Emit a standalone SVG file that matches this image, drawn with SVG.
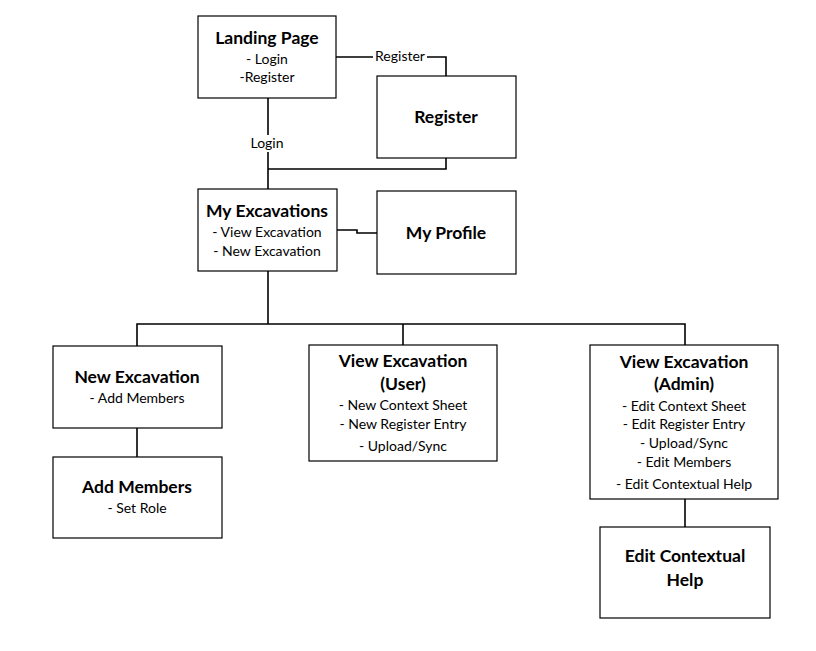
<svg xmlns="http://www.w3.org/2000/svg" width="816" height="651" viewBox="0 0 816 651">
<style>
.box{fill:#fff;stroke:#000;stroke-width:1.2}
.c{fill:none;stroke:#000;stroke-width:1.6}
text{font-family:Lato,"Open Sans","Liberation Sans",sans-serif;fill:#000;text-anchor:middle}
.t{font-weight:bold;font-size:17.5px}
.s{font-size:14px}
.lbl{font-size:14px}
</style>
<rect width="816" height="651" fill="#fff"/>
<g id="connectors">
<path class="c" d="M336 57H446V76"/>
<path class="c" d="M268 98V189"/>
<path class="c" d="M446 158V169H268"/>
<path class="c" d="M337 230H357V233H377"/>
<path class="c" d="M268 271V324" stroke-width="2"/>
<path class="c" d="M137 346V324H685V345"/>
<path class="c" d="M403 324V345"/>
<path class="c" d="M137 428V457"/>
<path class="c" d="M685 499V527"/>
<rect x="373" y="48" width="54" height="17" fill="#fff"/>
<text class="lbl" x="400" y="61">Register</text>
<rect x="249" y="135" width="37" height="17" fill="#fff"/>
<text class="lbl" x="267" y="148">Login</text>
</g>
<g id="landing">
<rect class="box" x="198" y="16" width="138" height="82"/>
<text class="t" x="267" y="44">Landing Page</text>
<text class="s" x="267" y="64">- Login</text>
<text class="s" x="267" y="82">-Register</text>
</g>
<g id="register">
<rect class="box" x="377" y="76" width="139" height="82"/>
<text class="t" x="446" y="123">Register</text>
</g>
<g id="myexcavations">
<rect class="box" x="198" y="189" width="139" height="82"/>
<text class="t" x="267" y="217">My Excavations</text>
<text class="s" x="267" y="237">- View Excavation</text>
<text class="s" x="267" y="256">- New Excavation</text>
</g>
<g id="myprofile">
<rect class="box" x="377" y="191" width="139" height="83"/>
<text class="t" x="446" y="239">My Profile</text>
</g>
<g id="newexcavation">
<rect class="box" x="53" y="346" width="169" height="82"/>
<text class="t" x="137" y="383">New Excavation</text>
<text class="s" x="137" y="403">- Add Members</text>
</g>
<g id="addmembers">
<rect class="box" x="53" y="457" width="169" height="81"/>
<text class="t" x="137" y="493">Add Members</text>
<text class="s" x="137" y="513">- Set Role</text>
</g>
<g id="viewuser">
<rect class="box" x="309" y="345" width="188" height="116"/>
<text class="t" x="403" y="367">View Excavation</text>
<text class="t" x="403" y="390">(User)</text>
<text class="s" x="403" y="410">- New Context Sheet</text>
<text class="s" x="403" y="429">- New Register Entry</text>
<text class="s" x="403" y="451">- Upload/Sync</text>
</g>
<g id="viewadmin">
<rect class="box" x="590" y="345" width="188" height="154"/>
<text class="t" x="684" y="368">View Excavation</text>
<text class="t" x="684" y="390">(Admin)</text>
<text class="s" x="684" y="411">- Edit Context Sheet</text>
<text class="s" x="684" y="429">- Edit Register Entry</text>
<text class="s" x="684" y="448">- Upload/Sync</text>
<text class="s" x="684" y="467">- Edit Members</text>
<text class="s" x="684" y="489">- Edit Contextual Help</text>
</g>
<g id="edithelp">
<rect class="box" x="600" y="527" width="170" height="91"/>
<text class="t" x="685" y="562">Edit Contextual</text>
<text class="t" x="685" y="586">Help</text>
</g>
</svg>
